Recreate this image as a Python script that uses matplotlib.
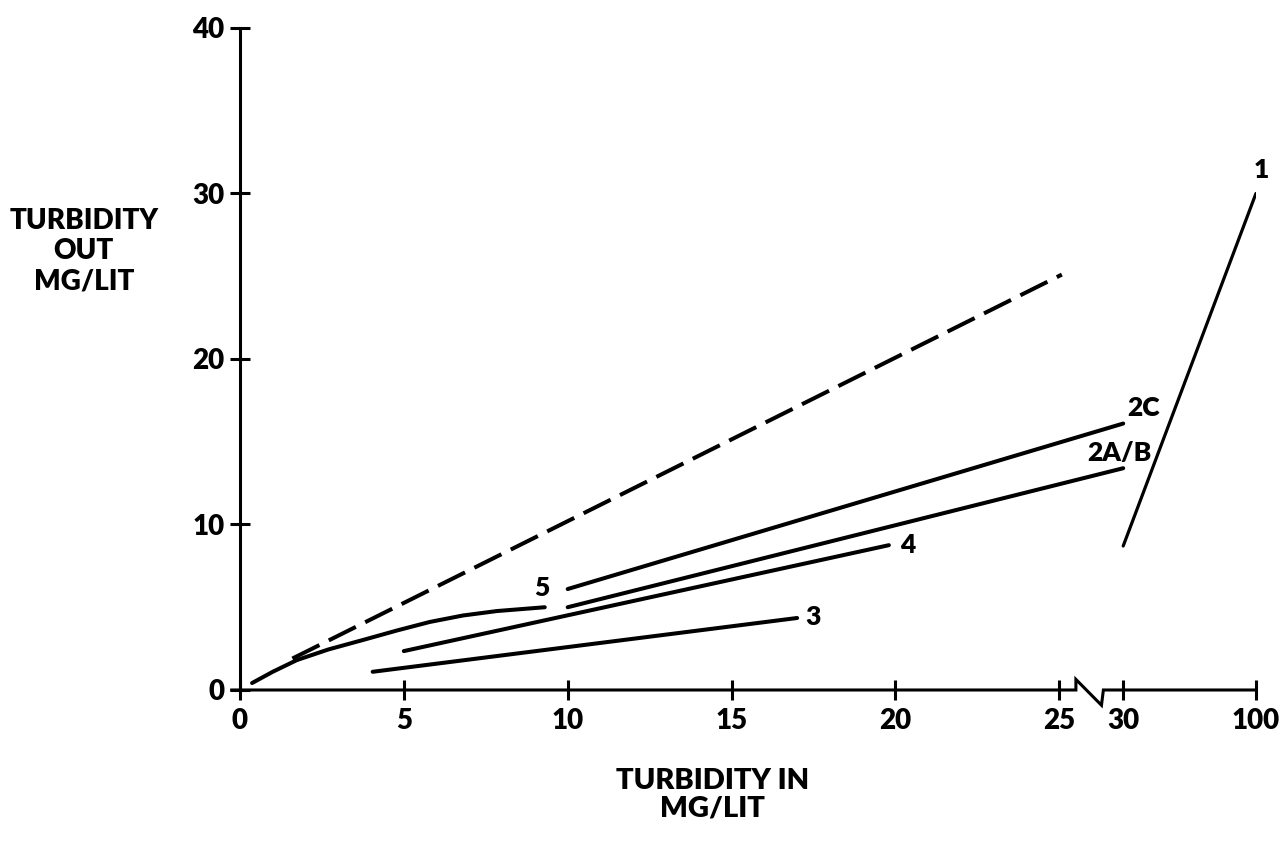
import numpy as np
import matplotlib
matplotlib.use('Agg')
import matplotlib.pyplot as plt
import matplotlib.transforms as mtransforms

plt.rcParams['font.family'] = ['Lato', 'DejaVu Sans']
plt.rcParams['font.weight'] = 'heavy'

# ---- 数据 ----
# 虚线 (进出相等)
ref_x = [1.6, 25.2]
ref_y = [1.9, 25.1]
# 曲线 5
c5_x = [0.37, 1.0, 1.74, 2.7, 3.75, 4.8, 5.79, 6.8, 7.84, 9.3]
c5_y = [0.42, 1.1, 1.81, 2.45, 3.02, 3.6, 4.11, 4.5, 4.77, 5.0]
# 直线 2C, 2A/B, 4, 3, 1
c2c_x = [10.0, 30.0]
c2c_y = [6.1, 16.1]
c2ab_x = [10.0, 30.0]
c2ab_y = [5.0, 13.4]
c4_x = [5.0, 19.8]
c4_y = [2.35, 8.75]
c3_x = [4.05, 17.0]
c3_y = [1.1, 4.35]
c1_x = [30.0, 100.0]
c1_y = [8.7, 30.0]

x_ticks = [0, 5, 10, 15, 20, 25, 30, 100]
y_ticks = [0, 10, 20, 30, 40]

# x轴分段刻度: 0-25 线性, 25-30 压缩, 30-100 再压缩
brk_in = [-100.0, 0.0, 25.0, 30.0, 100.0, 1000.0]
brk_out = [-100.0, 0.0, 25.0, 26.95, 31.0, 31.0 + 900 * 0.0579]


def fwd(x):
    return np.interp(x, brk_in, brk_out)


def inv(x):
    return np.interp(x, brk_out, brk_in)


fig = plt.figure(figsize=(12.88, 8.51), dpi=100)
ax = fig.add_axes([0.1863, 0.1892, 0.7888, 0.7779])
ax.set_xscale('function', functions=(fwd, inv))
ax.set_xlim(0, 100)
ax.set_ylim(0, 40)

lw = 2.9
ax.plot(ref_x, ref_y, color='black', lw=lw, dashes=(7.5, 2.6), solid_capstyle='round')
ax.plot(c5_x, c5_y, color='black', lw=lw, solid_capstyle='round', solid_joinstyle='round')
ax.plot(c2c_x, c2c_y, color='black', lw=lw, solid_capstyle='round')
ax.plot(c2ab_x, c2ab_y, color='black', lw=lw, solid_capstyle='round')
ax.plot(c4_x, c4_y, color='black', lw=lw, solid_capstyle='round')
ax.plot(c3_x, c3_y, color='black', lw=lw, solid_capstyle='round')
ax.plot(c1_x, c1_y, color='black', lw=2.3, solid_capstyle='round')

# 曲线编号
lab = dict(textcoords='offset points', fontsize=19, fontweight='heavy')
ax.annotate('1', (c1_x[1], c1_y[1]), xytext=(4, 17), ha='center', va='center', **lab)
ax.annotate('2C', (c2c_x[1], c2c_y[1]), xytext=(3, 11), ha='left', va='center', **lab)
ax.annotate('2A/B', (c2ab_x[1], c2ab_y[1]), xytext=(-3, 11), ha='center', va='center', **lab)
ax.annotate('4', (c4_x[1], c4_y[1]), xytext=(8, 0), ha='left', va='center', **lab)
ax.annotate('3', (c3_x[1], c3_y[1]), xytext=(6, 1), ha='left', va='center', **lab)
ax.annotate('5', (c5_x[-1], c5_y[-1]), xytext=(-2, 14), ha='center', va='center', **lab)

# 坐标轴
for s in ['top', 'right', 'bottom']:
    ax.spines[s].set_visible(False)
ax.spines['left'].set_linewidth(2.2)

# 带断点的x轴
trans = mtransforms.blended_transform_factory(ax.transData, ax.transAxes)
ax.plot([-0.25, 26.3, 26.3, 28.3, 28.45, 100], [0, 0, 0.016, -0.023, 0, 0],
        color='black', lw=2.2, transform=trans, clip_on=False, solid_joinstyle='miter')

ax.set_xticks(x_ticks)
ax.set_xticklabels([str(t) for t in x_ticks])
ax.set_yticks(y_ticks)
ax.set_yticklabels([str(t) for t in y_ticks])
ax.tick_params(axis='both', direction='inout', length=14, width=2.2,
               labelsize=20, pad=4)
ax.tick_params(axis='x', pad=6)
for t in ax.get_xticklabels() + ax.get_yticklabels():
    t.set_fontweight('heavy')

fig.text(0.065, 1 - 251 / 851, 'TURBIDITY\nOUT\nMG/LIT', ha='center', va='center',
         fontsize=20, fontweight='heavy', linespacing=1.2)
fig.text(0.553, 1 - 795 / 851, 'TURBIDITY IN\nMG/LIT', ha='center', va='center',
         fontsize=21, fontweight='heavy', linespacing=1.05)

fig.savefig('out.png', dpi=100)
